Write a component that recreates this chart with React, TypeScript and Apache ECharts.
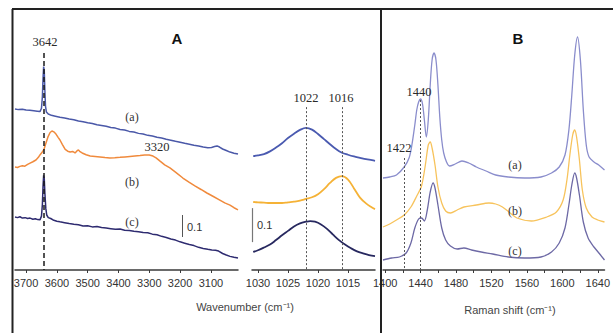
import React, { useEffect, useRef } from "react";
import * as echarts from "echarts";

// ---------- tick labels ----------
const ftirLabels = [3700, 3600, 3500, 3400, 3300, 3200, 3100];
const poLabels = [1030, 1025, 1020, 1015];
const ramanLabels = [1400, 1440, 1480, 1520, 1560, 1600, 1640];
const ramanTicks = [1400, 1420, 1440, 1460, 1480, 1500, 1520, 1540, 1560, 1580, 1600, 1620, 1640];

// ---------- Panel A, high wavenumber region (absorbance, offset) ----------
const ftirA: number[][] = [
  [3736, 0.732], [3725, 0.729], [3712, 0.731], [3700, 0.727], [3688, 0.726], [3675, 0.724], [3664, 0.722],
  [3655, 0.72], [3650, 0.735], [3647, 0.79], [3645, 0.87], [3643, 0.925], [3641, 0.905], [3639, 0.815],
  [3637, 0.745], [3634, 0.718], [3628, 0.709], [3618, 0.703], [3605, 0.699], [3590, 0.694], [3575, 0.691],
  [3560, 0.686], [3545, 0.683], [3530, 0.677], [3515, 0.674], [3500, 0.669], [3485, 0.666], [3470, 0.66],
  [3455, 0.657], [3440, 0.653], [3425, 0.648], [3410, 0.645], [3395, 0.639], [3380, 0.636], [3365, 0.63],
  [3350, 0.627], [3335, 0.621], [3320, 0.618], [3305, 0.612], [3290, 0.609], [3275, 0.603], [3260, 0.6],
  [3245, 0.594], [3230, 0.59], [3215, 0.585], [3200, 0.581], [3185, 0.576], [3170, 0.572], [3155, 0.567],
  [3140, 0.564], [3125, 0.559], [3110, 0.556], [3098, 0.557], [3088, 0.561], [3080, 0.564], [3072, 0.559],
  [3062, 0.55], [3050, 0.543], [3038, 0.536], [3025, 0.531], [3012, 0.527],
];
const ftirB: number[][] = [
  [3736, 0.468], [3728, 0.466], [3720, 0.471], [3712, 0.474], [3704, 0.472], [3695, 0.48], [3687, 0.486],
  [3678, 0.492], [3668, 0.5], [3660, 0.512], [3655, 0.523], [3648, 0.535], [3642, 0.548], [3636, 0.575],
  [3629, 0.605], [3622, 0.625], [3616, 0.632], [3610, 0.628], [3603, 0.618], [3596, 0.603], [3590, 0.591],
  [3582, 0.57], [3573, 0.548], [3565, 0.54], [3557, 0.536], [3549, 0.539], [3541, 0.532], [3535, 0.541],
  [3530, 0.546], [3525, 0.538], [3518, 0.532], [3505, 0.524], [3492, 0.518], [3476, 0.516], [3460, 0.514],
  [3444, 0.511], [3428, 0.509], [3412, 0.51], [3395, 0.512], [3379, 0.514], [3363, 0.516], [3347, 0.518],
  [3330, 0.52], [3315, 0.523], [3300, 0.523], [3288, 0.518], [3278, 0.51], [3265, 0.495], [3250, 0.478],
  [3233, 0.464], [3215, 0.445], [3191, 0.418], [3170, 0.398], [3152, 0.382], [3132, 0.366], [3113, 0.35],
  [3092, 0.334], [3071, 0.318], [3055, 0.305], [3038, 0.295], [3025, 0.283], [3012, 0.273],
];
const ftirC: number[][] = [
  [3736, 0.241], [3728, 0.238], [3720, 0.242], [3712, 0.236], [3703, 0.238], [3695, 0.234], [3687, 0.236],
  [3678, 0.231], [3670, 0.233], [3662, 0.229], [3655, 0.228], [3650, 0.245], [3647, 0.3], [3645, 0.38],
  [3643, 0.43], [3641, 0.415], [3639, 0.35], [3636, 0.28], [3633, 0.25], [3628, 0.238], [3620, 0.234],
  [3610, 0.226], [3600, 0.222], [3590, 0.219], [3575, 0.215], [3560, 0.211], [3545, 0.208], [3530, 0.206],
  [3515, 0.2], [3500, 0.201], [3485, 0.196], [3470, 0.198], [3455, 0.193], [3440, 0.191], [3425, 0.188],
  [3410, 0.185], [3395, 0.186], [3380, 0.181], [3365, 0.18], [3350, 0.176], [3335, 0.174], [3320, 0.17],
  [3305, 0.169], [3290, 0.163], [3275, 0.16], [3260, 0.153], [3245, 0.148], [3230, 0.141], [3215, 0.136],
  [3200, 0.128], [3185, 0.122], [3170, 0.116], [3155, 0.111], [3140, 0.103], [3125, 0.098], [3110, 0.094],
  [3097, 0.091], [3085, 0.09], [3075, 0.086], [3062, 0.075], [3050, 0.068], [3038, 0.062], [3025, 0.058],
  [3012, 0.055],
];

// ---------- Panel A, P-O region ----------
const poA: number[][] = [
  [1030.8, 0.335], [1030, 0.337], [1029, 0.341], [1028, 0.349], [1027, 0.36], [1026, 0.373], [1025, 0.388],
  [1024, 0.401], [1023, 0.412], [1022, 0.418], [1021, 0.413], [1020, 0.4], [1019, 0.385], [1018, 0.37],
  [1017, 0.356], [1016, 0.345], [1015, 0.339], [1014, 0.334], [1013, 0.33], [1012, 0.326], [1011, 0.323],
  [1010.5, 0.321],
];
const poB: number[][] = [
  [1030.8, 0.2], [1030, 0.199], [1029, 0.198], [1028, 0.197], [1027, 0.197], [1026, 0.197], [1025, 0.199],
  [1024, 0.201], [1023, 0.204], [1022, 0.209], [1021, 0.214], [1020, 0.223], [1019, 0.238], [1018, 0.256],
  [1017, 0.271], [1016, 0.276], [1015, 0.266], [1014, 0.24], [1013, 0.213], [1012, 0.196], [1011, 0.184],
  [1010.5, 0.179],
];
const poC: number[][] = [
  [1030.8, 0.053], [1030, 0.058], [1029, 0.066], [1028, 0.075], [1027, 0.088], [1026, 0.102], [1025, 0.115],
  [1024, 0.128], [1023, 0.137], [1022, 0.142], [1021.3, 0.144], [1020.5, 0.142], [1019.5, 0.134],
  [1018.5, 0.121], [1017.5, 0.104], [1016.5, 0.088], [1015.5, 0.075], [1014.5, 0.064], [1013.5, 0.055],
  [1012.5, 0.049], [1011.5, 0.044], [1010.5, 0.041],
];

// ---------- Panel B, Raman ----------
const ramanA: number[][] = [
  [1397.6, 0.92], [1405.2, 0.93], [1412.8, 0.95], [1421.5, 1.03], [1427, 1.12], [1430.2, 1.25], [1433.5, 1.45],
  [1435.7, 1.6], [1437.8, 1.68], [1440, 1.71], [1442.2, 1.66], [1444.3, 1.5], [1446.5, 1.33], [1448.7, 1.5],
  [1450.9, 1.85], [1453, 2.1], [1455.2, 2.17], [1457.4, 2.1], [1459.6, 1.85], [1461.7, 1.53], [1463.9, 1.3],
  [1466.1, 1.17], [1469.3, 1.08], [1472.6, 1.04], [1479.1, 1.06], [1486.7, 1.09], [1494.3, 1.07], [1503, 1.03],
  [1513.9, 0.99], [1524.8, 0.95], [1538.9, 0.93], [1557.4, 0.92], [1575.9, 0.93], [1587.8, 0.97], [1596.5, 1.03],
  [1603, 1.15], [1607.4, 1.4], [1610.7, 1.75], [1614, 2.15], [1617.2, 2.33], [1620.4, 2.1], [1623.7, 1.6],
  [1627, 1.25], [1630.2, 1.13], [1635.7, 1.08], [1641.1, 1.05], [1647.6, 1.0],
];
const ramanB: number[][] = [
  [1397.6, 0.43], [1405.2, 0.46], [1412.8, 0.5], [1421.5, 0.55], [1429.1, 0.63], [1435.7, 0.74], [1441.1, 0.84],
  [1445.4, 1.05], [1448.7, 1.25], [1450.9, 1.28], [1453, 1.22], [1456.3, 1.05], [1459.6, 0.83], [1463.9, 0.67],
  [1468.3, 0.59], [1473.7, 0.57], [1481.3, 0.6], [1488.9, 0.63], [1503, 0.65], [1517.2, 0.67], [1524.8, 0.66],
  [1532.4, 0.63], [1541.1, 0.57], [1548.7, 0.52], [1565, 0.49], [1582.4, 0.53], [1593.3, 0.58], [1600.9, 0.7],
  [1605.2, 0.9], [1608.5, 1.15], [1611.7, 1.35], [1614, 1.4], [1616.1, 1.33], [1619.3, 1.1], [1622.6, 0.8],
  [1627, 0.62], [1633.5, 0.53], [1640, 0.5], [1647.6, 0.48],
];
const ramanC: number[][] = [
  [1397.6, 0.1], [1407.4, 0.12], [1416.1, 0.13], [1423.7, 0.17], [1429.1, 0.27], [1433.5, 0.42], [1437.8, 0.51],
  [1441.1, 0.52], [1444.3, 0.49], [1447.6, 0.6], [1450.9, 0.78], [1454.1, 0.87], [1456.3, 0.82], [1459.6, 0.65],
  [1463.9, 0.42], [1468.3, 0.3], [1473.7, 0.24], [1481.3, 0.21], [1488.9, 0.22], [1497.6, 0.2], [1508.5, 0.18],
  [1521.5, 0.16], [1538.9, 0.13], [1557.4, 0.12], [1575.9, 0.13], [1587.8, 0.18], [1596.5, 0.27], [1603, 0.42],
  [1607.4, 0.65], [1610.7, 0.85], [1614, 0.97], [1616.1, 0.92], [1619.3, 0.75], [1623.7, 0.48], [1629.1, 0.32],
  [1635.7, 0.23], [1642.2, 0.16], [1647.6, 0.1],
];

const SANS = '"Liberation Sans", Arial, sans-serif';
const SERIF = '"Liberation Serif", "Times New Roman", serif';

function makeX(gridIndex: number, min: number, max: number, inverse: boolean, labels: number[], ticks: number[]) {
  return {
    type: "value",
    gridIndex,
    min,
    max,
    inverse,
    axisLine: { show: true, onZero: false, lineStyle: { color: "#3a3a3a", width: 1.5 } },
    axisTick: { show: true, customValues: ticks, length: 3, lineStyle: { color: "#3a3a3a", width: 1 } },
    axisLabel: {
      customValues: labels,
      color: "#333",
      fontSize: 11,
      fontFamily: SANS,
      margin: 7,
      formatter: (v: number) => String(Math.round(v)),
    },
    splitLine: { show: false },
  };
}

function makeY(gridIndex: number, max: number) {
  return { type: "value", gridIndex, min: 0, max, show: false, splitLine: { show: false } };
}

function vline(x: number, y0: number, y1: number, color: string, width: number, type: any) {
  return {
    silent: true,
    symbol: ["none", "none"],
    label: { show: false },
    lineStyle: { color, width, type },
    data: [[{ coord: [x, y0] }, { coord: [x, y1] }]],
  };
}

function lineSeries(xi: number, data: number[][], color: string, width: number, smooth: number | boolean, markLine?: any) {
  return {
    type: "line",
    xAxisIndex: xi,
    yAxisIndex: xi,
    data,
    symbol: "none",
    showSymbol: false,
    smooth,
    silent: true,
    lineStyle: { color, width },
    markLine,
  };
}

function txt(text: string, x: number, y: number, font: string, fill = "#2a2a2a", align = "center") {
  return {
    type: "text",
    x,
    y,
    z: 10,
    style: { text, font, fill, textAlign: align, textVerticalAlign: "middle" },
  };
}

export default function App() {
  const ref = useRef<HTMLDivElement>(null);
  useEffect(() => {
    if (!ref.current) return;
    const chart = echarts.init(ref.current, undefined, { renderer: "svg" });
    const option: any = {
      animation: false,
      backgroundColor: "#ffffff",
      grid: [
        { left: 15, top: 9, width: 223, height: 261 },
        { left: 252, top: 9, width: 123, height: 261 },
        { left: 383, top: 9, width: 230, height: 261 },
      ],
      xAxis: [
        makeX(0, 3012, 3736, true, ftirLabels, ftirLabels),
        makeX(1, 1010.5, 1031, true, poLabels, poLabels),
        makeX(2, 1397.6, 1647.6, false, ramanLabels, ramanTicks),
      ],
      yAxis: [makeY(0, 261 / 220), makeY(1, 261 / 340), makeY(2, 2.61)],
      series: [
        lineSeries(0, ftirA, "#4a58a8", 1.5, false, vline(3642, 0.986, 0, "#1a1a1a", 1.5, [5, 3])),
        lineSeries(0, ftirB, "#f08a3c", 1.5, false, vline(3194, 0.15, 0.25, "#555", 1, "solid")),
        lineSeries(0, ftirC, "#2e2b70", 1.5, false),
        lineSeries(1, poA, "#4a5ab0", 1.8, 0.4, {
          silent: true,
          symbol: ["none", "none"],
          label: { show: false },
          lineStyle: { color: "#555", width: 1, type: [2, 2] },
          data: [
            [{ coord: [1022, 0.479] }, { coord: [1022, 0] }],
            [{ coord: [1016, 0.479] }, { coord: [1016, 0] }],
          ],
        }),
        lineSeries(1, poB, "#f5b236", 1.8, 0.4, vline(1031, 0.082, 0.182, "#777", 1.2, "solid")),
        lineSeries(1, poC, "#27285f", 1.8, 0.4),
        lineSeries(2, ramanA, "#8a8dcc", 1.3, 0.3, {
          silent: true,
          symbol: ["none", "none"],
          label: { show: false },
          lineStyle: { color: "#555", width: 1, type: [2, 2] },
          data: [
            [{ coord: [1422, 1.12] }, { coord: [1422, 0] }],
            [{ coord: [1440, 1.7] }, { coord: [1440, 0] }],
          ],
        }),
        lineSeries(2, ramanB, "#f7c35c", 1.3, 0.3),
        lineSeries(2, ramanC, "#6d69a5", 1.3, 0.3),
      ],
      graphic: [
        { type: "line", z: 20, shape: { x1: 12, y1: 9, x2: 613, y2: 9 }, style: { stroke: "#222", lineWidth: 2 } },
        { type: "line", z: 20, shape: { x1: 12.5, y1: 9, x2: 12.5, y2: 333 }, style: { stroke: "#222", lineWidth: 2 } },
        { type: "line", z: 20, shape: { x1: 381, y1: 9, x2: 381, y2: 333 }, style: { stroke: "#222", lineWidth: 2 } },
        txt("3642", 45, 42, `12.5px ${SERIF}`),
        txt("A", 177, 38, `bold 15px ${SANS}`, "#111"),
        txt("(a)", 132, 117, `12px ${SERIF}`, "#333"),
        txt("(b)", 132, 182, `12px ${SERIF}`, "#333"),
        txt("(c)", 132, 222, `12px ${SERIF}`, "#333"),
        txt("3320", 157, 147, `12.5px ${SERIF}`),
        txt("0.1", 187, 227, `11px ${SANS}`, "#333", "left"),
        txt("0.1", 257, 225, `11px ${SANS}`, "#333", "left"),
        txt("1022", 306, 98, `12.5px ${SERIF}`),
        txt("1016", 341, 98, `12.5px ${SERIF}`),
        txt("Wavenumber (cm\u207B\u00B9)", 245, 307, `11px ${SANS}`, "#444"),
        txt("B", 518, 38, `bold 15px ${SANS}`, "#111"),
        txt("1440", 419, 92, `12.5px ${SERIF}`),
        txt("1422", 399, 148, `12.5px ${SERIF}`),
        txt("(a)", 515, 165, `12px ${SERIF}`, "#333"),
        txt("(b)", 515, 211, `12px ${SERIF}`, "#333"),
        txt("(c)", 515, 251, `12px ${SERIF}`, "#333"),
        txt("Raman shift (cm\u207B\u00B9)", 510, 310, `11px ${SANS}`, "#444"),
      ],
    };
    chart.setOption(option);
    return () => chart.dispose();
  }, []);
  return (
    <div
      ref={ref}
      style={{ position: "fixed", left: 0, top: 0, width: 613, height: 333, background: "#fff" }}
    />
  );
}
